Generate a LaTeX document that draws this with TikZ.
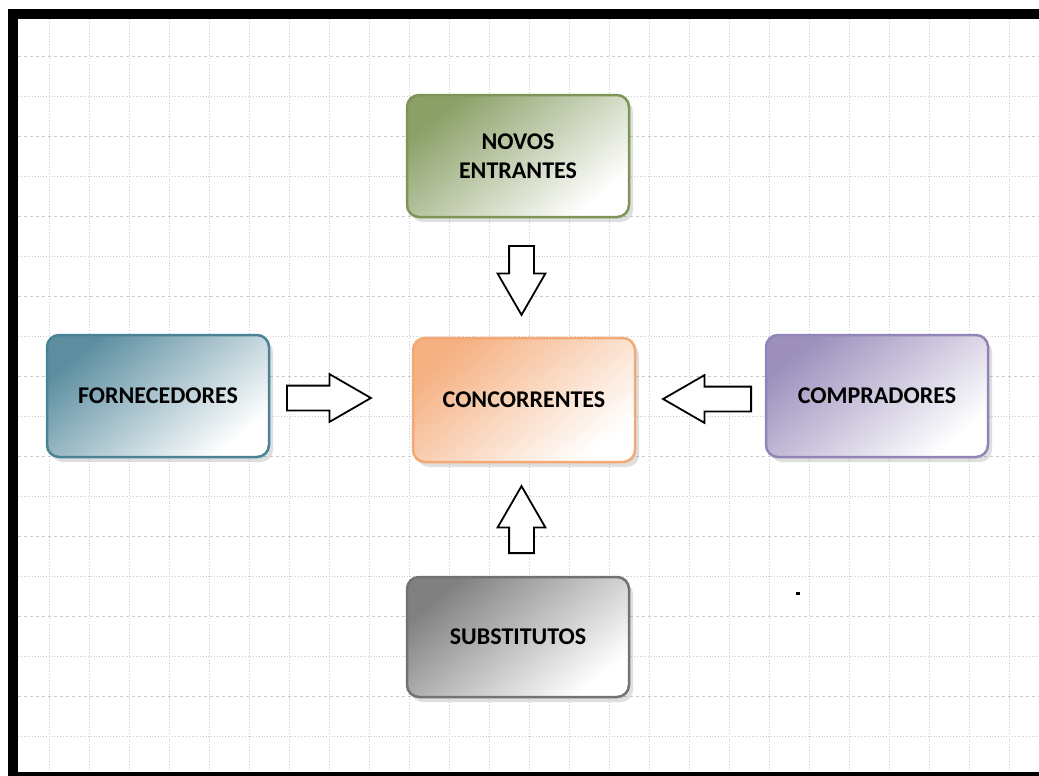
\documentclass[tikz,border=0pt]{standalone}
\usepackage{fontspec}
\setmainfont{Carlito}
\usetikzlibrary{shapes.arrows,shadows}
\definecolor{verde}{HTML}{7E9556}
\definecolor{azul}{HTML}{4A8296}
\definecolor{laranja}{HTML}{F4A874}
\definecolor{roxo}{HTML}{9284B6}
\definecolor{cinza}{HTML}{727272}
\tikzset{
  forca/.style={draw=#1, line width=2.5pt, rounded corners=12pt,
    top color=#1!90!white, bottom color=white, shading angle=40,
    minimum width=222pt, minimum height=122pt, align=center,
    font=\bfseries\fontsize{24}{29}\selectfont,
    drop shadow={opacity=0.25, shadow xshift=4pt, shadow yshift=-5pt}},
  seta/.style={single arrow, draw=black, line width=1.8pt, fill=white,
    inner xsep=0pt, inner ysep=11.5pt, single arrow head extend=11.5pt,
    single arrow tip angle=60, minimum height=#1, anchor=tail},
  grade/.style={gray!40, line width=0.8pt}
}
\begin{document}
\begin{tikzpicture}[x=1pt,y=-1pt]
\useasboundingbox (0,0) rectangle (1039,776);
\fill[white] (0,0) rectangle (1039,776);
% grid
\begin{scope}
\clip (18,19) rectangle (1039,772);
\foreach \gx in {49,89,...,1009}
  \draw[grade, dotted] (\gx,19) -- (\gx,772);
\foreach \gy in {56,136,...,736}
  \draw[grade, dashed] (18,\gy) -- (1039,\gy);
\foreach \gy in {96,176,...,736}
  \draw[grade, dotted] (18,\gy) -- (1039,\gy);
\end{scope}
% frame
\fill[black] (8,9) rectangle (1039,19);
\fill[black] (8,9) rectangle (18,776);
\fill[black] (8,772) rectangle (1039,776);
% boxes
\node[forca=verde] (novos) at (518,156) {NOVOS\\ENTRANTES};
\node[forca=azul] (fornecedores) at (158,396) {FORNECEDORES};
\node[forca=laranja, minimum height=124pt] (concorrentes) at (524,400) {CONCORRENTES};
\node[forca=roxo] (compradores) at (877,396) {COMPRADORES};
\node[forca=cinza, minimum height=120pt] (substitutos) at (518,637) {SUBSTITUTOS};
% arrows
\node[seta=69pt, rotate=-90] (setanovos) at (521.5,245) {};
\node[seta=67pt, rotate=90] (setasubst) at (521.5,554) {};
\node[seta=84pt] (setaforn) at (286,398) {};
\node[seta=88pt, rotate=180] (setacomp) at (752,399) {};
\fill[black] (796,592) rectangle (800,595);
\end{tikzpicture}
\end{document}
